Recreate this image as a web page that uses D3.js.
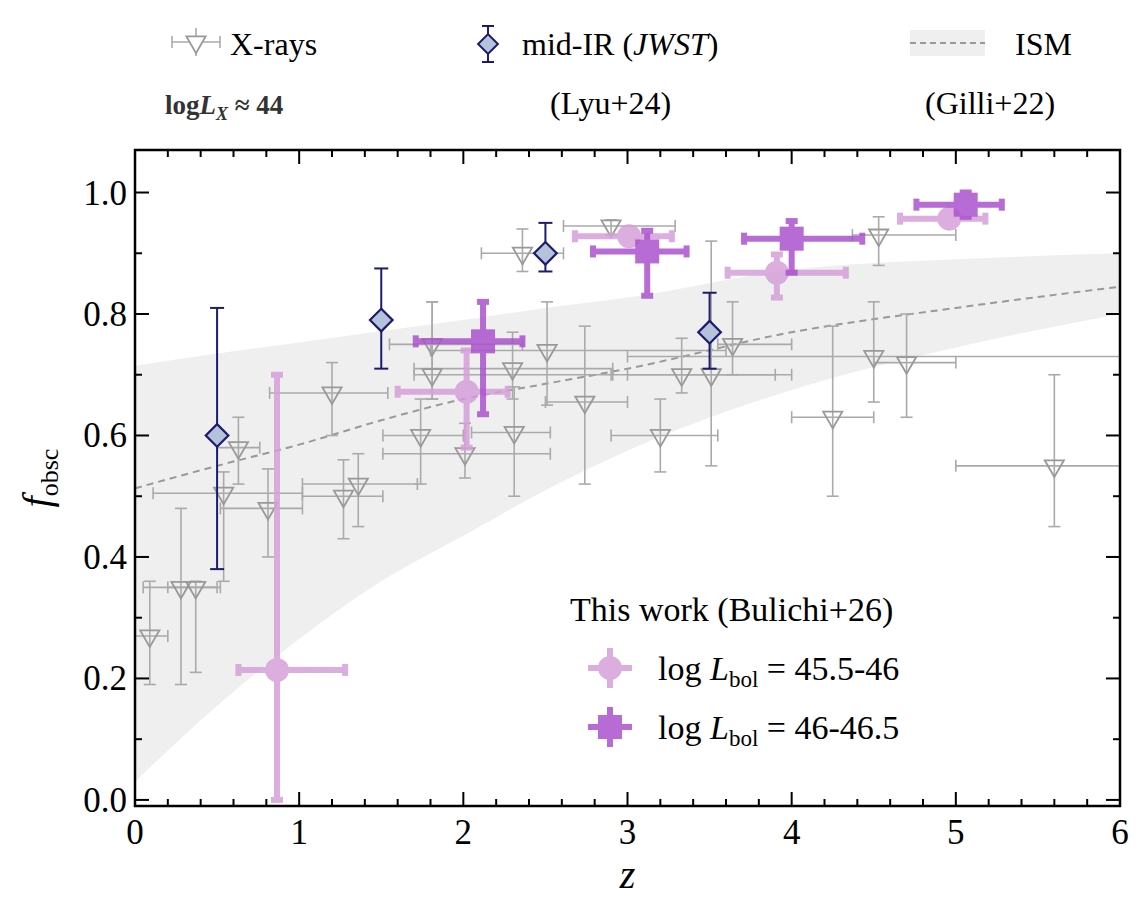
<!DOCTYPE html>
<html><head><meta charset="utf-8">
<script src="https://cdn.jsdelivr.net/npm/d3@7"></script>
<style>body{margin:0;background:#fff}text{font-family:"Liberation Serif","DejaVu Serif",serif}</style>
</head><body><svg id="chart" width="1140" height="911"></svg>
<script>
// X-ray points: z, f, zlo, zhi, flo, fhi
const xrayZ   = [0.09,0.28,0.37,0.54,0.63,0.81,1.20,1.27,1.36,1.74,1.81,1.81,2.01,2.31,2.30,2.51,2.36,2.90,3.33,3.51,3.64,2.74,3.20,4.25,4.50,4.70,4.53,5.60];
const xrayF   = [0.27,0.35,0.35,0.505,0.58,0.48,0.67,0.50,0.52,0.60,0.70,0.75,0.57,0.605,0.71,0.74,0.90,0.945,0.70,0.70,0.75,0.655,0.60,0.63,0.73,0.72,0.93,0.55];
const xrayZlo = [0.00,0.05,0.20,0.11,0.50,0.52,0.82,1.02,1.02,1.51,1.70,1.55,1.51,2.05,1.70,1.80,2.11,2.61,3.00,2.90,3.55,2.50,2.90,4.00,3.00,4.50,4.37,5.00];
const xrayZhi = [0.20,0.52,0.50,1.02,0.76,1.02,1.54,1.51,1.72,2.00,2.91,2.36,2.53,2.53,2.91,3.60,2.61,3.29,4.00,3.90,4.00,3.00,3.55,4.50,6.00,5.00,5.00,6.00];
const xrayFlo = [0.19,0.19,0.21,0.36,0.52,0.40,0.60,0.43,0.45,0.52,0.66,0.66,0.53,0.50,0.66,0.65,0.87,0.93,0.67,0.55,0.70,0.52,0.54,0.50,0.655,0.63,0.88,0.45];
const xrayFhi = [0.36,0.48,0.36,0.54,0.63,0.545,0.72,0.56,0.57,0.66,0.82,0.82,0.62,0.68,0.77,0.82,0.94,0.955,0.76,0.92,0.82,0.78,0.66,0.78,0.82,0.80,0.96,0.70];

// mid-IR JWST (Lyu+24)
const irZ   = [0.5,1.5,2.5,3.5];
const irF   = [0.60,0.79,0.90,0.77];
const irFlo = [0.38,0.71,0.87,0.71];
const irFhi = [0.81,0.875,0.95,0.835];

// This work, log Lbol 45.5-46
const lowZ   = [0.865,2.02,3.01,3.91,4.96];
const lowF   = [0.214,0.672,0.928,0.868,0.957];
const lowZlo = [0.63,1.60,2.68,3.61,4.66];
const lowZhi = [1.28,2.27,3.27,4.33,5.18];
const lowFlo = [0.0,0.58,0.915,0.827,0.945];
const lowFhi = [0.70,0.74,0.94,0.898,0.97];

// This work, log Lbol 46-46.5
const hiZ   = [2.12,3.12,4.00,5.06];
const hiF   = [0.755,0.903,0.924,0.98];
const hiZlo = [1.71,2.79,3.71,4.76];
const hiZhi = [2.36,3.36,4.43,5.28];
const hiFlo = [0.635,0.83,0.868,0.96];
const hiFhi = [0.82,0.937,0.953,1.0];

// ISM model (Gilli+22)
const ismZ     = [0,0.5,1,1.5,2,2.5,3,4,5,6];
const ismMid   = [0.513,0.55,0.585,0.625,0.66,0.685,0.71,0.77,0.81,0.845];
const ismUpper = [0.715,0.735,0.753,0.772,0.79,0.81,0.827,0.873,0.89,0.90];
const ismLower = [0.03,0.155,0.265,0.36,0.435,0.51,0.575,0.675,0.745,0.80];

const svg = d3.select("#chart");
const L = 135, R = 1120, T = 150, B = 806;
const x = d3.scaleLinear().domain([0,6]).range([L,R]);
const y = d3.scaleLinear().domain([-0.01,1.07]).range([B,T]);

svg.append("clipPath").attr("id","clip").append("rect")
  .attr("x",L).attr("y",T).attr("width",R-L).attr("height",B-T);
const plot = svg.append("g").attr("clip-path","url(#clip)");

// ISM band and line
plot.append("path")
  .datum(ismZ.map((z,i) => [z, ismLower[i], ismUpper[i]]))
  .attr("fill","#efefef")
  .attr("d", d3.area().curve(d3.curveMonotoneX).x(d => x(d[0])).y0(d => y(d[1])).y1(d => y(d[2])));
plot.append("path")
  .datum(ismZ.map((z,i) => [z, ismMid[i]]))
  .attr("fill","none").attr("stroke","#999").attr("stroke-width",2).attr("stroke-dasharray","7,5")
  .attr("d", d3.line().curve(d3.curveMonotoneX).x(d => x(d[0])).y(d => y(d[1])));

function errbars(g, zs, fs, zlo, zhi, flo, fhi, color, w, cap) {
  zs.forEach((z,i) => {
    const e = g.append("g").attr("stroke",color).attr("stroke-width",w);
    if (zlo) {
      e.append("line").attr("x1",x(zlo[i])).attr("x2",x(zhi[i])).attr("y1",y(fs[i])).attr("y2",y(fs[i]));
      [zlo[i],zhi[i]].forEach(v => e.append("line").attr("x1",x(v)).attr("x2",x(v)).attr("y1",y(fs[i])-cap).attr("y2",y(fs[i])+cap));
    }
    e.append("line").attr("x1",x(z)).attr("x2",x(z)).attr("y1",y(flo[i])).attr("y2",y(fhi[i]));
    [flo[i],fhi[i]].forEach(v => e.append("line").attr("x1",x(z)-cap).attr("x2",x(z)+cap).attr("y1",y(v)).attr("y2",y(v)));
  });
}
const tri = d3.symbol().type(d3.symbolTriangle).size(160);

// X-rays
const gx = plot.append("g");
errbars(gx, xrayZ, xrayF, xrayZlo, xrayZhi, xrayFlo, xrayFhi, "#aaa", 1.6, 6);
xrayZ.forEach((z,i) => gx.append("path").attr("d",tri)
  .attr("transform",`translate(${x(z)},${y(xrayF[i])}) rotate(180)`)
  .attr("fill","none").attr("stroke","#999").attr("stroke-width",1.8));

// mid-IR
const gi = plot.append("g");
errbars(gi, irZ, irF, null, null, irFlo, irFhi, "#1c1c6e", 2, 7);
irZ.forEach((z,i) => gi.append("rect").attr("x",-8).attr("y",-8).attr("width",16).attr("height",16)
  .attr("transform",`translate(${x(z)},${y(irF[i])}) rotate(45)`)
  .attr("fill","#b4c2dc").attr("stroke","#1c1c6e").attr("stroke-width",2.2));

// this work
const gl = plot.append("g").attr("opacity",0.85);
errbars(gl, lowZ, lowF, lowZlo, lowZhi, lowFlo, lowFhi, "#d6a0da", 6, 6);
lowZ.forEach((z,i) => gl.append("circle").attr("cx",x(z)).attr("cy",y(lowF[i])).attr("r",12).attr("fill","#d6a0da"));
const gh = plot.append("g").attr("opacity",0.85);
errbars(gh, hiZ, hiF, hiZlo, hiZhi, hiFlo, hiFhi, "#ab52cd", 6, 6);
hiZ.forEach((z,i) => gh.append("rect").attr("x",x(z)-12).attr("y",y(hiF[i])-12).attr("width",24).attr("height",24).attr("fill","#ab52cd"));

// axes frame and ticks
svg.append("rect").attr("x",L).attr("y",T).attr("width",R-L).attr("height",B-T)
  .attr("fill","none").attr("stroke","#000").attr("stroke-width",2.5);
const tk = svg.append("g").attr("stroke","#000").attr("stroke-width",2);
d3.range(0,6.001,0.2).forEach(v => {
  const major = Math.abs(v - Math.round(v)) < 1e-6, len = major ? 14 : 7;
  tk.append("line").attr("x1",x(v)).attr("x2",x(v)).attr("y1",B).attr("y2",B-len);
  tk.append("line").attr("x1",x(v)).attr("x2",x(v)).attr("y1",T).attr("y2",T+len);
});
d3.range(0,1.001,0.1).forEach((v,i) => {
  const len = i % 2 === 0 ? 14 : 7;
  tk.append("line").attr("x1",L).attr("x2",L+len).attr("y1",y(v)).attr("y2",y(v));
  tk.append("line").attr("x1",R).attr("x2",R-len).attr("y1",y(v)).attr("y2",y(v));
});
d3.range(0,7).forEach(v => svg.append("text").attr("x",x(v)).attr("y",B+38).attr("text-anchor","middle")
  .attr("font-size",35).text(v));
d3.range(0,1.001,0.2).forEach(v => svg.append("text").attr("x",L-8).attr("y",y(v)+12).attr("text-anchor","end")
  .attr("font-size",35).text(v.toFixed(1)));
svg.append("text").attr("x",(L+R)/2).attr("y",B+82).attr("text-anchor","middle").attr("font-size",40)
  .attr("font-style","italic").text("z");
const yl = svg.append("text").attr("transform",`translate(50,${(T+B)/2}) rotate(-90)`).attr("text-anchor","middle").attr("font-size",40);
yl.append("tspan").attr("font-style","italic").text("f");
yl.append("tspan").attr("font-size",26).attr("dy",8).text("obsc");

// top legend
const lg = svg.append("g");
lg.append("line").attr("x1",172).attr("x2",220).attr("y1",42).attr("y2",42).attr("stroke","#aaa").attr("stroke-width",1.6);
lg.append("line").attr("x1",196).attr("x2",196).attr("y1",28).attr("y2",56).attr("stroke","#aaa").attr("stroke-width",1.6);
[172,220].forEach(v => lg.append("line").attr("x1",v).attr("x2",v).attr("y1",36).attr("y2",48).attr("stroke","#aaa").attr("stroke-width",1.6));
lg.append("path").attr("d",tri).attr("transform","translate(196,42) rotate(180)").attr("fill","#fff").attr("stroke","#999").attr("stroke-width",1.8);
lg.append("text").attr("x",230).attr("y",55).attr("font-size",32).text("X-rays");
const lx = lg.append("text").attr("x",165).attr("y",114).attr("font-family","DejaVu Serif").attr("font-weight","bold").attr("font-size",27).attr("fill","#333");
lx.append("tspan").text("log");
lx.append("tspan").attr("font-style","italic").text("L");
lx.append("tspan").attr("font-style","italic").attr("font-size",18).attr("dy",6).text("X");
lx.append("tspan").attr("dy",-6).text(" ≈ 44");

lg.append("line").attr("x1",488).attr("x2",488).attr("y1",26).attr("y2",62).attr("stroke","#1c1c6e").attr("stroke-width",2);
[26,62].forEach(v => lg.append("line").attr("x1",482).attr("x2",494).attr("y1",v).attr("y2",v).attr("stroke","#1c1c6e").attr("stroke-width",2));
lg.append("rect").attr("x",-7).attr("y",-7).attr("width",14).attr("height",14).attr("transform","translate(488,44) rotate(45)")
  .attr("fill","#b4c2dc").attr("stroke","#1c1c6e").attr("stroke-width",2);
const mt = lg.append("text").attr("x",522).attr("y",55).attr("font-size",32);
mt.append("tspan").text("mid-IR (");
mt.append("tspan").attr("font-style","italic").text("JWST");
mt.append("tspan").text(")");
lg.append("text").attr("x",550).attr("y",114).attr("font-size",32).text("(Lyu+24)");

lg.append("rect").attr("x",910).attr("y",30).attr("width",75).attr("height",26).attr("fill","#efefef");
lg.append("line").attr("x1",910).attr("x2",985).attr("y1",43).attr("y2",43).attr("stroke","#999").attr("stroke-width",2).attr("stroke-dasharray","6,4");
lg.append("text").attr("x",1015).attr("y",55).attr("font-size",32).text("ISM");
lg.append("text").attr("x",925).attr("y",114).attr("font-size",32).text("(Gilli+22)");

// inner legend
const il = svg.append("g");
il.append("text").attr("x",570).attr("y",621).attr("font-size",34).text("This work (Bulichi+26)");
[[668,"#d6a0da","45.5-46",true],[727,"#ab52cd","46-46.5",false]].forEach(([yy,c,lab,circ]) => {
  const g = il.append("g").attr("opacity",0.85);
  g.append("line").attr("x1",588).attr("x2",632).attr("y1",yy).attr("y2",yy).attr("stroke",c).attr("stroke-width",6);
  g.append("line").attr("x1",610).attr("x2",610).attr("y1",yy-20).attr("y2",yy+20).attr("stroke",c).attr("stroke-width",6);
  if (circ) g.append("circle").attr("cx",610).attr("cy",yy).attr("r",12).attr("fill",c);
  else g.append("rect").attr("x",598).attr("y",yy-12).attr("width",24).attr("height",24).attr("fill",c);
  const t = il.append("text").attr("x",658).attr("y",yy+12).attr("font-size",34);
  t.append("tspan").text("log ");
  t.append("tspan").attr("font-style","italic").text("L");
  t.append("tspan").attr("font-size",23).attr("dy",7).text("bol");
  t.append("tspan").attr("dy",-7).text(" = " + lab);
});
</script></body></html>
